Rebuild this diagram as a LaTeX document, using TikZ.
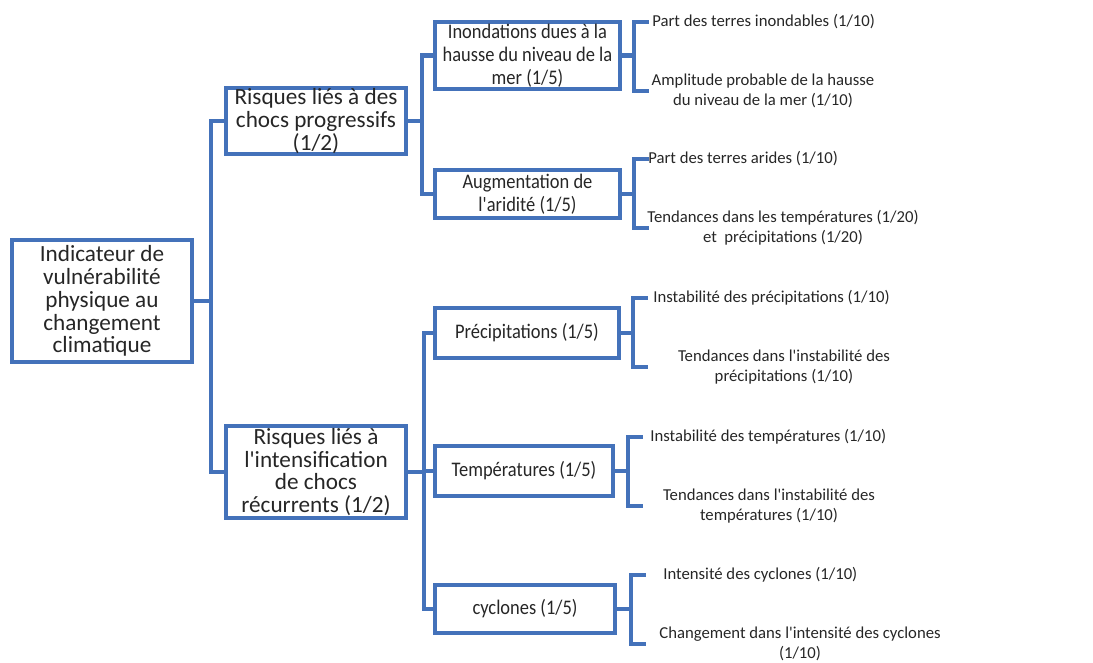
\documentclass[tikz,border=0pt]{standalone}
\usepackage{fontspec}
\setmainfont{Carlito}
\newfontfamily\bigfont{Carlito}
\newfontfamily\midfont[FakeStretch=0.89]{Carlito}
\newfontfamily\leaffont{Carlito}
\definecolor{linkblue}{RGB}{68,114,186}
\tikzset{
  box/.style={draw=linkblue, line width=2.3pt, inner sep=0pt, align=center, text=black!85},
  bigbox/.style={box, font=\bigfont\fontsize{13.2}{13}\selectfont},
  midbox/.style={box, font=\midfont\fontsize{11.8}{13}\selectfont},
  leaf/.style={align=center, inner sep=0pt, font=\leaffont\fontsize{9.5}{11.3}\selectfont, text=black!85},
  link/.style={draw=linkblue, line width=2.3pt}
}
\begin{document}
\begin{tikzpicture}[x=0.02cm, y=-0.02cm]
	\useasboundingbox (0,0) rectangle (1093,663);
	
	% root and first level
	\node[bigbox, minimum width=3.6cm, minimum height=2.44cm] (root) at (102,301) {Indicateur de\\vulnérabilité\\physique au\\changement\\climatique};
	\node[bigbox, minimum width=3.6cm, minimum height=1.32cm] (progr) at (316,121) {Risques liés à des\\chocs progressifs\\(1/2)};
	\node[bigbox, minimum width=3.6cm, minimum height=1.84cm] (recur) at (316,472) {Risques liés à\\l'intensification\\de chocs\\récurrents (1/2)};
	
	% second level
	\node[midbox, minimum width=3.7cm, minimum height=1.34cm] (inond) at (527.5,55.5) {Inondations dues à la\\hausse du niveau de la\\mer (1/5)};
	\node[midbox, minimum width=3.7cm, minimum height=0.96cm] (arid) at (527.5,194) {Augmentation de\\l'aridité (1/5)};
	\node[midbox, minimum width=3.68cm, minimum height=1cm] (prec) at (527,333) {Précipitations (1/5)};
	\node[midbox, minimum width=3.56cm, minimum height=1cm] (temp) at (524,471) {Températures (1/5)};
	\node[midbox, minimum width=3.6cm, minimum height=0.96cm] (cycl) at (525,609) {cyclones (1/5)};
	
	% sub-indicators
	\node[leaf, anchor=west] (inondA) at (652,22) {Part des terres inondables (1/10)};
	\node[leaf] (inondB) at (763,91) {Amplitude probable de la hausse\\du niveau de la mer (1/10)};
	\node[leaf, anchor=west] (aridA) at (648,159) {Part des terres arides (1/10)};
	\node[leaf] (aridB) at (783,228) {Tendances dans les températures (1/20)\\et\ \ précipitations (1/20)};
	\node[leaf, anchor=west] (precA) at (653,298) {Instabilité des précipitations (1/10)};
	\node[leaf] (precB) at (784,367) {Tendances dans l'instabilité des\\précipitations (1/10)};
	\node[leaf, anchor=west] (tempA) at (650,437) {Instabilité des températures (1/10)};
	\node[leaf] (tempB) at (769,506) {Tendances dans l'instabilité des\\températures (1/10)};
	\node[leaf, anchor=west] (cyclA) at (663,575) {Intensité des cyclones (1/10)};
	\node[leaf] (cyclB) at (800,644) {Changement dans l'intensité des cyclones\\(1/10)};
	
	% tree lines
	\draw[link] (root.east) -- ++(17,0) coordinate (rootfork);
	\draw[link] (progr.west) -| (rootfork) |- (recur.west);
	\draw[link] (progr.east) -- ++(14,0) coordinate (progrfork);
	\draw[link] (inond.west) -| (progrfork) |- (arid.west);
	\draw[link] (recur.east) -- ++(16,0) coordinate (recurfork);
	\draw[link] (prec.west) -| (recurfork) |- (cycl.west);
	\draw[link] (temp.west) -- (temp.west -| recurfork);
	
	\foreach \n/\d in {inond/12, arid/12, prec/12, temp/13, cycl/14}
	{
		\draw[link] (\n.east) -- ++(\d,0) coordinate (\n fork);
		\coordinate (\n tick) at ([xshift=0.29cm]\n fork);
		\draw[link] (\n A -| \n tick) -| (\n fork) |- (\n B -| \n tick);
	}
\end{tikzpicture}
\end{document}
